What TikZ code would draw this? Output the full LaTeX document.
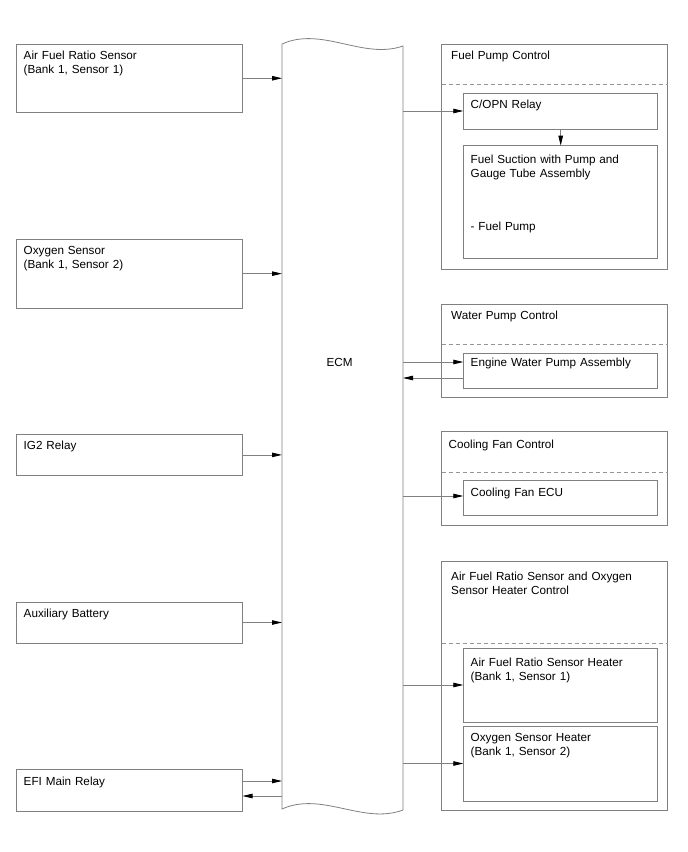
\documentclass[tikz,border=0pt]{standalone}
\usepackage{fontspec}
\setmainfont{Liberation Sans}
\usetikzlibrary{arrows.meta}
\definecolor{lc}{RGB}{128,128,128}
\definecolor{dc}{RGB}{150,150,150}
\tikzset{
  box/.style={draw=lc, line width=0.8pt, anchor=north west, inner sep=0pt, outer sep=0pt},
  txt/.style={anchor=base west, inner sep=0pt, align=left, text width=210pt,
              font=\fontsize{11.7}{14.3}\selectfont},
  arr/.style={draw=lc, line width=0.8pt, -{Triangle[length=10pt,width=4.5pt,color=black]}},
  sep/.style={draw=dc, line width=0.8pt, dash pattern=on 4pt off 3pt}
}
\begin{document}
\begin{tikzpicture}[x=1pt,y=-1pt]
\useasboundingbox (0,0) rectangle (688,852);

% ECM
\node[anchor=north west, inner sep=0pt, outer sep=0pt, minimum width=121pt, minimum height=766pt] (ecm) at (282,44) {};
\draw[lc, line width=0.8pt] (282,44) .. controls (322,26) and (363,60) .. (403,46)
  -- (403,810) .. controls (363,825) and (322,791) .. (282,809) -- cycle;
\node[anchor=base, inner sep=0pt, font=\fontsize{11.7}{14.3}\selectfont] (ecmT) at (339.5,366.7) {ECM};

% left boxes
\node[box, minimum width=226pt, minimum height=68.5pt] (afr) at (16.5,44) {};
\node[txt] (afrT) at (23.5,59.5) {Air Fuel Ratio Sensor\\(Bank 1, Sensor 1)};
\node[box, minimum width=226pt, minimum height=68.7pt] (oxs) at (16.5,239.3) {};
\node[txt] (oxsT) at (23.5,254) {Oxygen Sensor\\(Bank 1, Sensor 2)};
\node[box, minimum width=226pt, minimum height=41.2pt] (ig2) at (16.5,434.3) {};
\node[txt] (ig2T) at (23.5,449.3) {IG2 Relay};
\node[box, minimum width=226pt, minimum height=41pt] (aux) at (16.5,602) {};
\node[txt] (auxT) at (23.5,617) {Auxiliary Battery};
\node[box, minimum width=226pt, minimum height=42pt] (efi) at (16.5,769) {};
\node[txt] (efiT) at (23.5,785) {EFI Main Relay};

\draw[arr] (afr.east) -- (ecm.west |- afr.east);
\draw[arr] (oxs.east) -- (ecm.west |- oxs.east);
\draw[arr] (ig2.east) -- (ecm.west |- ig2.east);
\draw[arr] (aux.east) -- (ecm.west |- aux.east);
\draw[arr] (efi.east |- 0,781) -- (ecm.west |- 0,781);
\draw[arr] (ecm.west |- 0,796) -- (efi.east |- 0,796);

% Fuel pump control
\node[box, minimum width=226pt, minimum height=225.5pt] (fpc) at (441.7,44) {};
\node[txt] (fpcT) at (451,59.5) {Fuel Pump Control};
\draw[sep] (fpc.west |- 0,84) -- (fpc.east |- 0,84);
\node[box, minimum width=194.4pt, minimum height=36pt] (copn) at (463.3,93) {};
\node[txt] (copnT) at (470.5,108.5) {C/OPN Relay};
\node[box, minimum width=194.4pt, minimum height=112.6pt] (fsp) at (463.3,145.7) {};
\node[txt] (fspT) at (470.5,163.4) {Fuel Suction with Pump and\\Gauge Tube Assembly};
\node[txt] (fspP) at (470.5,230) {- Fuel Pump};
\draw[arr] (ecm.east |- copn.west) -- (copn.west);
\draw[arr] (copn.south -| 560.7,0) -- (fsp.north -| 560.7,0);

% Water pump control
\node[box, minimum width=226pt, minimum height=93pt] (wpc) at (441.7,304) {};
\node[txt] (wpcT) at (451,319) {Water Pump Control};
\draw[sep] (wpc.west |- 0,344) -- (wpc.east |- 0,344);
\node[box, minimum width=194.4pt, minimum height=35pt] (ewp) at (463.3,353) {};
\node[txt] (ewpT) at (470.5,366) {Engine Water Pump Assembly};
\draw[arr] (ecm.east |- 0,362) -- (ewp.west |- 0,362);
\draw[arr] (ewp.west |- 0,378) -- (ecm.east |- 0,378);

% Cooling fan control
\node[box, minimum width=226pt, minimum height=93.3pt] (cfc) at (441.7,431.7) {};
\node[txt] (cfcT) at (448.5,448.7) {Cooling Fan Control};
\draw[sep] (cfc.west |- 0,472.3) -- (cfc.east |- 0,472.3);
\node[box, minimum width=194.4pt, minimum height=35pt] (cfe) at (463.3,480.7) {};
\node[txt] (cfeT) at (470.5,496.5) {Cooling Fan ECU};
\draw[arr] (ecm.east |- 0,496) -- (cfe.west |- 0,496);

% AF / O2 heater control
\node[box, minimum width=226pt, minimum height=249pt] (hc) at (441.7,561) {};
\node[txt] (hcT) at (451,580) {Air Fuel Ratio Sensor and Oxygen\\Sensor Heater Control};
\draw[sep] (hc.west |- 0,643) -- (hc.east |- 0,643);
\node[box, minimum width=194.4pt, minimum height=74pt] (afh) at (463.3,648) {};
\node[txt] (afhT) at (470.5,666) {Air Fuel Ratio Sensor Heater\\(Bank 1, Sensor 1)};
\node[box, minimum width=194.4pt, minimum height=75pt] (oxh) at (463.3,726) {};
\node[txt] (oxhT) at (470.5,741) {Oxygen Sensor Heater\\(Bank 1, Sensor 2)};
\draw[arr] (ecm.east |- afh.west) -- (afh.west);
\draw[arr] (ecm.east |- oxh.west) -- (oxh.west);
\end{tikzpicture}
\end{document}
